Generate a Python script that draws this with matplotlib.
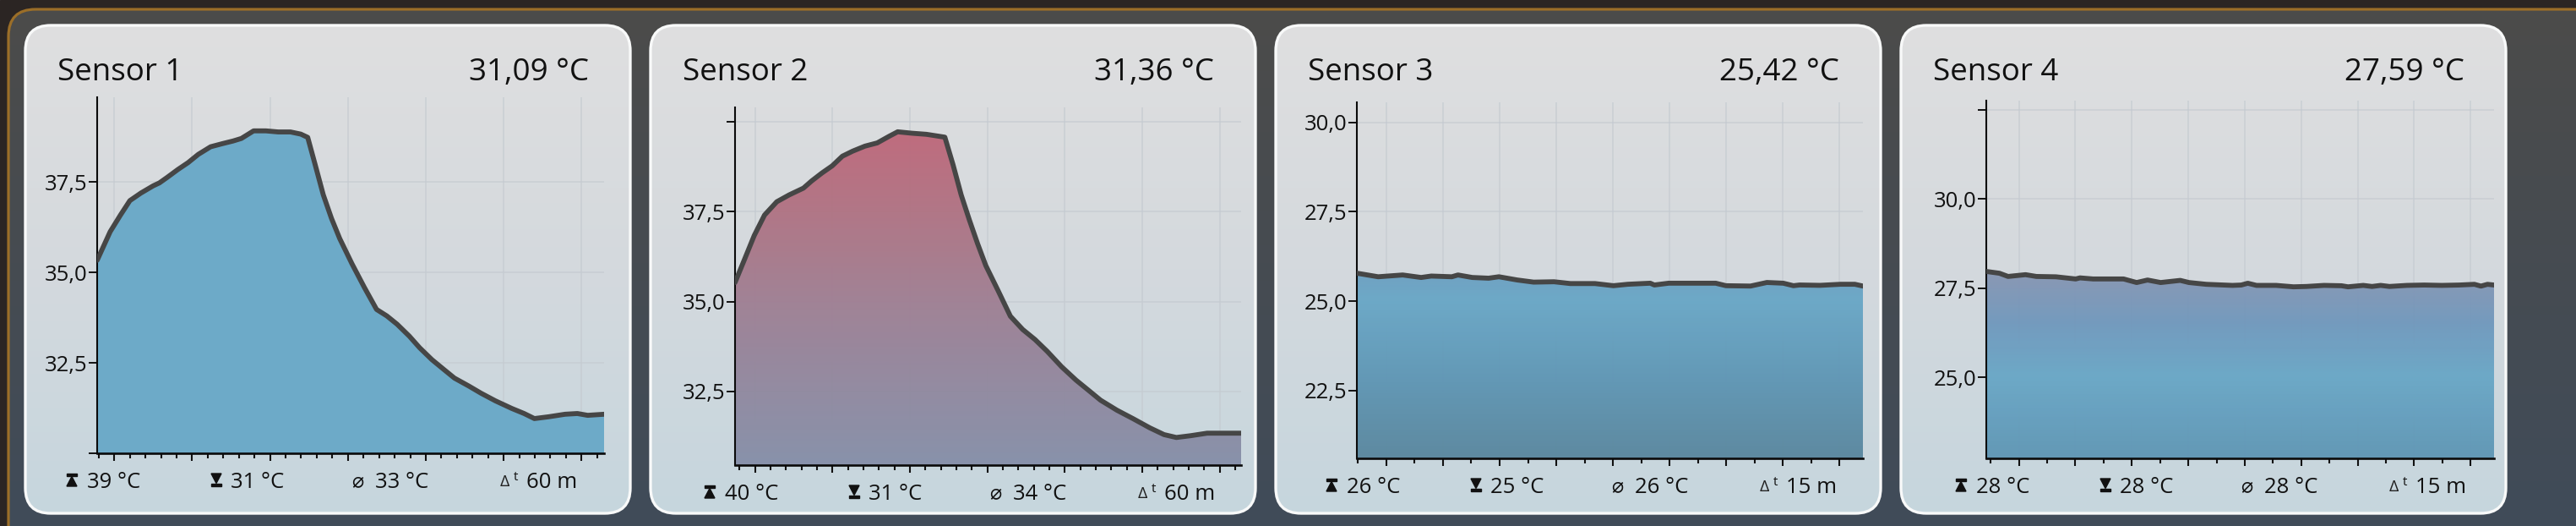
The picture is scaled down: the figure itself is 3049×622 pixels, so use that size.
import numpy as np
import matplotlib.pyplot as plt
from matplotlib.patches import FancyBboxPatch, Polygon, Rectangle
from matplotlib.colors import LinearSegmentedColormap, Normalize
from matplotlib.ticker import MultipleLocator

plt.rcParams['font.family'] = ['Open Sans', 'DejaVu Sans']

names = ['Sensor 1', 'Sensor 2', 'Sensor 3', 'Sensor 4']
current = ['31,09 °C', '31,36 °C', '25,42 °C', '27,59 °C']
max_txt = ['39 °C', '40 °C', '26 °C', '28 °C']
min_txt = ['31 °C', '31 °C', '25 °C', '28 °C']
avg_txt = ['33 °C', '34 °C', '26 °C', '28 °C']
span_txt = ['60 m', '60 m', '15 m', '15 m']

# sensor 1 / 2: minutes, sensor 3 / 4: seconds
t1 = [-2.2, -0.53, 0.79, 2.0, 3.42, 5.0, 5.79, 6.84, 8.16, 9.47, 10.79, 12.37, 13.95, 15.26,
      16.32, 17.89, 19.47, 21.05, 22.63, 23.95, 24.84, 25.79, 26.84, 27.89, 28.95, 30.53,
      32.11, 33.68, 35.0, 36.32, 37.89, 39.21, 40.79, 42.37, 43.68, 45.53, 47.11, 48.95,
      51.05, 52.63, 53.95, 55.79, 57.89, 59.47, 60.79, 62.9]
v1 = [35.34, 36.13, 36.59, 36.99, 37.20, 37.40, 37.48, 37.64, 37.85, 38.04, 38.27, 38.48,
      38.57, 38.64, 38.71, 38.92, 38.92, 38.89, 38.89, 38.83, 38.74, 37.99, 37.15, 36.50,
      35.94, 35.24, 34.59, 33.98, 33.80, 33.57, 33.24, 32.92, 32.59, 32.31, 32.08, 31.86,
      31.66, 31.45, 31.24, 31.10, 30.96, 31.01, 31.08, 31.10, 31.05, 31.08]

t2 = [-2.59, -1.43, -0.11, 1.22, 2.80, 4.39, 6.24, 7.30, 8.62, 9.95, 11.27, 12.59, 14.18,
      15.77, 17.35, 18.41, 20.26, 22.12, 24.50, 25.56, 26.61, 27.67, 28.73, 29.79, 31.38,
      32.96, 34.55, 36.14, 37.72, 39.58, 41.43, 43.02, 44.60, 46.72, 48.84, 50.95, 52.80,
      54.39, 56.24, 58.36, 60.48, 62.75]
v2 = [35.53, 36.14, 36.84, 37.41, 37.78, 37.97, 38.16, 38.36, 38.58, 38.78, 39.05, 39.19,
      39.33, 39.42, 39.61, 39.73, 39.69, 39.66, 39.58, 38.81, 37.97, 37.27, 36.61, 36.00,
      35.30, 34.59, 34.22, 33.94, 33.61, 33.18, 32.81, 32.53, 32.25, 31.97, 31.73, 31.48,
      31.29, 31.21, 31.26, 31.33, 31.33, 31.33]

t3 = [-52, -14.4, 28.9, 61.4, 79.4, 115.5, 126.4, 151.6, 180.5, 198.6, 231.0, 259.9, 296.0,
      324.9, 368.2, 400.7, 426.0, 465.7, 472.9, 498.2, 541.5, 581.2, 599.3, 642.6, 671.5,
      700.4, 718.4, 729.2, 765.3, 801.4, 826.7, 841]
v3 = [25.78, 25.68, 25.73, 25.66, 25.70, 25.68, 25.73, 25.66, 25.64, 25.68, 25.59, 25.53,
      25.54, 25.49, 25.49, 25.43, 25.47, 25.50, 25.45, 25.50, 25.50, 25.50, 25.43, 25.42,
      25.52, 25.50, 25.43, 25.45, 25.44, 25.47, 25.47, 25.42]

t4 = [-57.9, -34.7, -19.3, 11.6, 30.9, 65.6, 100.4, 108.1, 131.3, 185.3, 208.5, 227.8,
      251.0, 285.7, 301.2, 332.0, 378.4, 393.8, 405.4, 420.8, 455.6, 486.5, 509.7, 540.5,
      571.4, 583.0, 610.0, 625.5, 640.9, 656.4, 687.3, 718.1, 749.0, 779.9, 806.9, 818.5,
      830.1, 841.7]
v4 = [27.97, 27.92, 27.83, 27.88, 27.83, 27.82, 27.76, 27.79, 27.76, 27.76, 27.66, 27.73,
      27.66, 27.72, 27.66, 27.61, 27.58, 27.59, 27.64, 27.58, 27.58, 27.54, 27.55, 27.58,
      27.57, 27.54, 27.58, 27.55, 27.58, 27.55, 27.58, 27.59, 27.58, 27.59, 27.61, 27.56,
      27.61, 27.59]

yticks = [[30, 32.5, 35, 37.5], [32.5, 35, 37.5, 40], [22.5, 25, 27.5, 30], [25, 27.5, 30, 32.5]]
ylabels = [['', '32,5', '35,0', '37,5'], ['32,5', '35,0', '37,5', ''],
           ['22,5', '25,0', '27,5', '30,0'], ['25,0', '27,5', '30,0', '']]

series = [(t1, v1), (t2, v2), (t3, v3), (t4, v4)]

# ---- layout (pixels) ----
W, H = 3049, 622
ylims = [(30.0, 39.85), (30.44, 40.41), (20.6, 30.56), (22.74, 32.75)]
xmajor = [10, 10, 100, 100]
xminor = [2, 2, 50, 50]
boxes = [(115, 715, 115, 536), (870, 1469, 127, 550), (1606, 2205, 121, 542), (2351, 2952, 119, 542)]

temp_cmap = LinearSegmentedColormap.from_list('temp', [
    (0.00, '#5a8499'), (0.135, '#6096b4'), (0.25, '#6aa8c7'), (0.325, '#7199bd'),
    (0.40, '#8a96b2'), (0.52, '#8690aa'), (0.625, '#918aa0'), (0.75, '#a08094'),
    (0.875, '#b07484'), (1.0, '#c0687a')])
tnorm = Normalize(20, 40)

fig = plt.figure(figsize=(W / 100, H / 100), dpi=100)
bg = fig.add_axes([0, 0, 1, 1])
bg.set_xlim(0, W)
bg.set_ylim(H, 0)
bg.axis('off')

bg.add_patch(Rectangle((0, 0), W, H, color='#2b2523', zorder=0))
frame = FancyBboxPatch((10, 11), W + 200, H + 200, boxstyle='round,pad=0,rounding_size=32',
                       fc='none', ec='#9b6e28', lw=2.3, zorder=2)
bg.add_patch(frame)
grad = np.linspace(0, 1, 256).reshape(-1, 1)
im = bg.imshow(grad, extent=[0, W, H, 0], origin='upper', aspect='auto', zorder=1,
               cmap=LinearSegmentedColormap.from_list('bgc', ['#4c4b4a', '#404c59']))
im.set_clip_path(frame)

card_cmap = LinearSegmentedColormap.from_list('card', ['#dfdfe0', '#d4d9dd', '#c6d6de'])
for i in range(4):
    cx = 29 + 740 * i
    card = FancyBboxPatch((cx + 1, 30), 716, 577, boxstyle='round,pad=0,rounding_size=30',
                          fc='none', ec='#f8f9f9', lw=2.4, zorder=4)
    bg.add_patch(card)
    cim = bg.imshow(grad, extent=[cx, cx + 718, 608, 29], origin='upper', aspect='auto',
                    zorder=3, cmap=card_cmap)
    cim.set_clip_path(card)

    bg.text(cx + 39, 95, names[i], fontsize=26.5, color='#111111', va='baseline', ha='left', zorder=6)
    bg.text(cx + 718 - 50, 95, current[i], fontsize=26.5, color='#111111', va='baseline',
            ha='right', zorder=6)

    l, r, t, b = boxes[i]
    base = b + 41
    # max icon
    bg.add_patch(Rectangle((l - 36, base - 17), 12, 2.6, color='#111111', zorder=6))
    bg.add_patch(Polygon([(l - 30, base - 13.5), (l - 36, base - 2), (l - 24, base - 2)],
                         closed=True, color='#111111', zorder=6))
    bg.text(l - 12, base, max_txt[i], fontsize=18.5, color='#111111', va='baseline', zorder=6)
    # min icon
    bg.add_patch(Polygon([(l + 135, base - 17), (l + 147, base - 17), (l + 141, base - 5.5)],
                         closed=True, color='#111111', zorder=6))
    bg.add_patch(Rectangle((l + 135, base - 4.6), 12, 2.6, color='#111111', zorder=6))
    bg.text(l + 158, base, min_txt[i], fontsize=18.5, color='#111111', va='baseline', zorder=6)
    # average
    bg.text(l + 301, base - 2, '\u2300', fontsize=17, color='#111111', va='baseline',
            family='DejaVu Sans', zorder=6)
    bg.text(l + 329, base, avg_txt[i], fontsize=18.5, color='#111111', va='baseline', zorder=6)
    # time span
    bg.text(l + 477, base - 2, '\u0394', fontsize=14, color='#222222', va='baseline', zorder=6)
    bg.text(l + 493, base - 9, 't', fontsize=11, color='#111111', va='baseline', zorder=6)
    bg.text(l + 508, base, span_txt[i], fontsize=18.5, color='#111111', va='baseline', zorder=6)

    # chart
    ax = fig.add_axes([l / W, 1 - b / H, (r - l) / W, (b - t) / H])
    ax.patch.set_alpha(0)
    x, v = series[i]
    y0, y1 = ylims[i]

    verts = [(x[0], y0)] + list(zip(x, v)) + [(x[-1], y0)]
    if i == 0:
        poly = Polygon(verts, closed=True, fc='#6aa9c8', ec='none', alpha=0.97, zorder=1)
        ax.add_patch(poly)
    else:
        poly = Polygon(verts, closed=True, fc='none', ec='none', zorder=1)
        ax.add_patch(poly)
        zz = np.linspace(y0, y1, 256).reshape(-1, 1)
        fim = ax.imshow(zz, extent=[x[0], x[-1], y0, y1], origin='lower', aspect='auto',
                        cmap=temp_cmap, norm=tnorm, alpha=0.97, zorder=1)
        fim.set_clip_path(poly)
    ax.plot(x, v, color='#464646', lw=4.2, solid_joinstyle='round', solid_capstyle='round',
            zorder=4)
    ax.set_xlim(x[0], x[-1])
    ax.set_ylim(y0, y1)

    ax.xaxis.set_major_locator(MultipleLocator(xmajor[i]))
    ax.xaxis.set_minor_locator(MultipleLocator(xminor[i]))
    ax.set_yticks(yticks[i])
    ax.set_yticklabels(ylabels[i])
    ax.grid(True, which='major', color='#c4cad0', lw=1.1, alpha=0.75, zorder=0)
    ax.set_axisbelow(True)
    for s in ['top', 'right']:
        ax.spines[s].set_visible(False)
    ax.spines['left'].set_linewidth(1.5)
    ax.spines['bottom'].set_linewidth(1.9)
    ax.spines['left'].set_color('#0a0a0a')
    ax.spines['bottom'].set_color('#0a0a0a')
    ax.tick_params(axis='y', length=7.5, width=1.4, pad=1, labelsize=18.5,
                   colors='#111111', direction='out')
    ax.tick_params(axis='x', which='major', length=6.5, width=1.5, labelbottom=False,
                   colors='#111111', direction='out')
    ax.tick_params(axis='x', which='minor', length=4.3, width=1.5, colors='#111111',
                   direction='out')

fig.savefig('out.png', dpi=100)
